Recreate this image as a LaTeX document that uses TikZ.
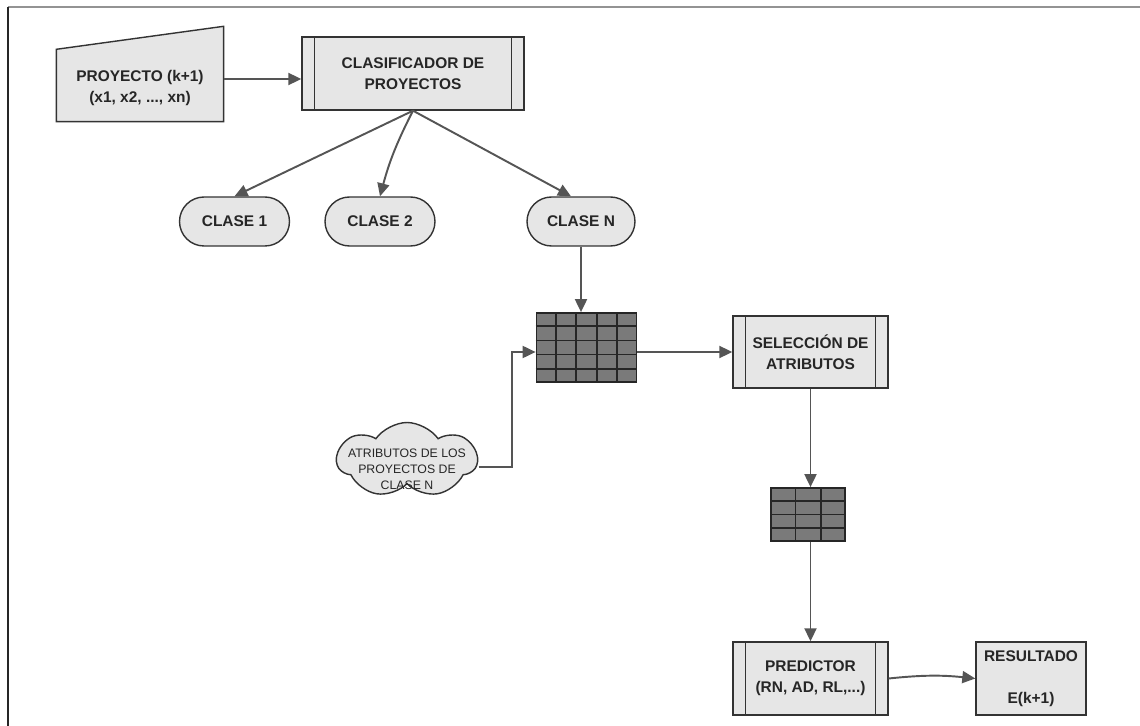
\documentclass[tikz,border=0pt]{standalone}
\usepackage{fontspec}
\setmainfont{Liberation Sans}
\usetikzlibrary{arrows.meta,positioning,calc,shapes.symbols,backgrounds}
\definecolor{relleno}{HTML}{E6E6E6}
\definecolor{borde}{HTML}{333333}
\definecolor{flecha}{HTML}{555555}
\definecolor{celdas}{HTML}{7A7A7A}
\definecolor{texto}{HTML}{262626}
\tikzset{caja/.style={draw=borde,fill=relleno,line width=0.8pt,align=center,font=\bfseries\fontsize{8.8}{11.9}\selectfont,text=texto,inner sep=2pt},clase/.style={caja,rounded corners=0.49cm,minimum width=2.2cm,minimum height=0.98cm},proceso/.style={caja,minimum width=3.1cm,minimum height=1.44cm},barra/.style={draw=borde,line width=0.8pt},tabla/.style={draw=black!85,fill=celdas,line width=1pt,minimum width=2cm,minimum height=1.38cm},celda/.style={draw=black!85,line width=1pt},flow/.style={-{Triangle[length=2.6mm,width=2.4mm]},line width=1.1pt,draw=flecha}}
\newcommand\barras[1]{\draw[barra] ([xshift=0.26cm]#1.north west)--([xshift=0.26cm]#1.south west) ([xshift=-0.26cm]#1.north east)--([xshift=-0.26cm]#1.south east);}
\newcommand\rejilla[3]{\pgfmathtruncatemacro\nCols{#2-1}\pgfmathtruncatemacro\nFilas{#3-1}%
\foreach \k in {1,...,\nCols} \draw[celda] ($(#1.north west)!\k/#2!(#1.north east)$)--($(#1.south west)!\k/#2!(#1.south east)$);%
\foreach \k in {1,...,\nFilas} \draw[celda] ($(#1.north west)!\k/#3!(#1.south west)$)--($(#1.north east)!\k/#3!(#1.south east)$);}

\begin{document}
\begin{tikzpicture}[x=0.02cm,y=-0.02cm]
\useasboundingbox (0,0) rectangle (1140,726);
\draw[gray!85,line width=1.2pt] (8,7)--(1140,7);\draw[black!85,line width=1pt] (8,7)--(8,726);
\node[caja,draw=none,fill=none,minimum width=3.32cm,minimum height=1.32cm] (proy) at (140,88) {PROYECTO (k+1)\\(x1, x2, ..., xn)};
\begin{scope}[on background layer]
\draw[barra,fill=relleno] (proy.south west)--(proy.south east)--([yshift=0.56cm]proy.north east)--([yshift=0.1cm]proy.north west)--cycle;
\end{scope}
\node[proceso,minimum width=4.44cm,minimum height=1.46cm] (clas) at (413,73.5) {CLASIFICADOR DE\\PROYECTOS};\barras{clas}
\node[clase] (c1) at (234.5,221.5) {CLASE 1};
\node[clase] (c2) at (380,221.5) {CLASE 2};
\node[clase,minimum width=2.16cm] (cN) at (581,221.5) {CLASE N};
\node[tabla] (t1) at (586.5,347.5) {};\rejilla{t1}{5}{5}
\node[proceso] (sel) at (810.5,352) {SELECCIÓN DE\\ATRIBUTOS};\barras{sel}
\node[cloud,cloud puffs=7,cloud puff arc=110,draw=borde,fill=relleno,line width=0.8pt,minimum width=2.8cm,minimum height=1.5cm] (nube) at (407,460) {};
\node[font=\fontsize{7}{9}\selectfont,text=texto,align=center,inner sep=0pt] (nubet) at (407,469) {ATRIBUTOS DE LOS\\PROYECTOS DE\\CLASE N};
\node[tabla,minimum width=1.48cm,minimum height=1.06cm] (t2) at (808,514.5) {};\rejilla{t2}{3}{4}
\node[proceso,minimum height=1.46cm] (pred) at (810.5,678.5) {PREDICTOR\\(RN, AD, RL,...)};\barras{pred}
\node[caja,minimum width=2.2cm,minimum height=1.46cm] (res) at (1031,678.5) {RESULTADO\\[11.9pt]E(k+1)};
\draw[flow] ([yshift=-0.11cm]clas.west -| proy.east)--([yshift=-0.11cm]clas.west);
\draw[flow] (clas.south)--(c1.north);\draw[flow] (clas.south) to[bend right=6] (c2.north);\draw[flow] (clas.south)--([xshift=-0.2cm]cN.north);
\draw[flow] (cN.south)--(cN.south |- t1.north);
\draw[flow] (t1.east |- sel.west)--(sel.west);
\draw[flow] ([yshift=-0.14cm]nube.east) -| ([xshift=-0.48cm]t1.west |- sel.west)--(t1.west |- sel.west);
\draw[flow] (sel.south)--(sel.south |- t2.north);\draw[flow] (t2.south -| pred.north)--(pred.north);
\draw[flow] (pred.east) to[bend left=6] (res.west);
\end{tikzpicture}
\end{document}
